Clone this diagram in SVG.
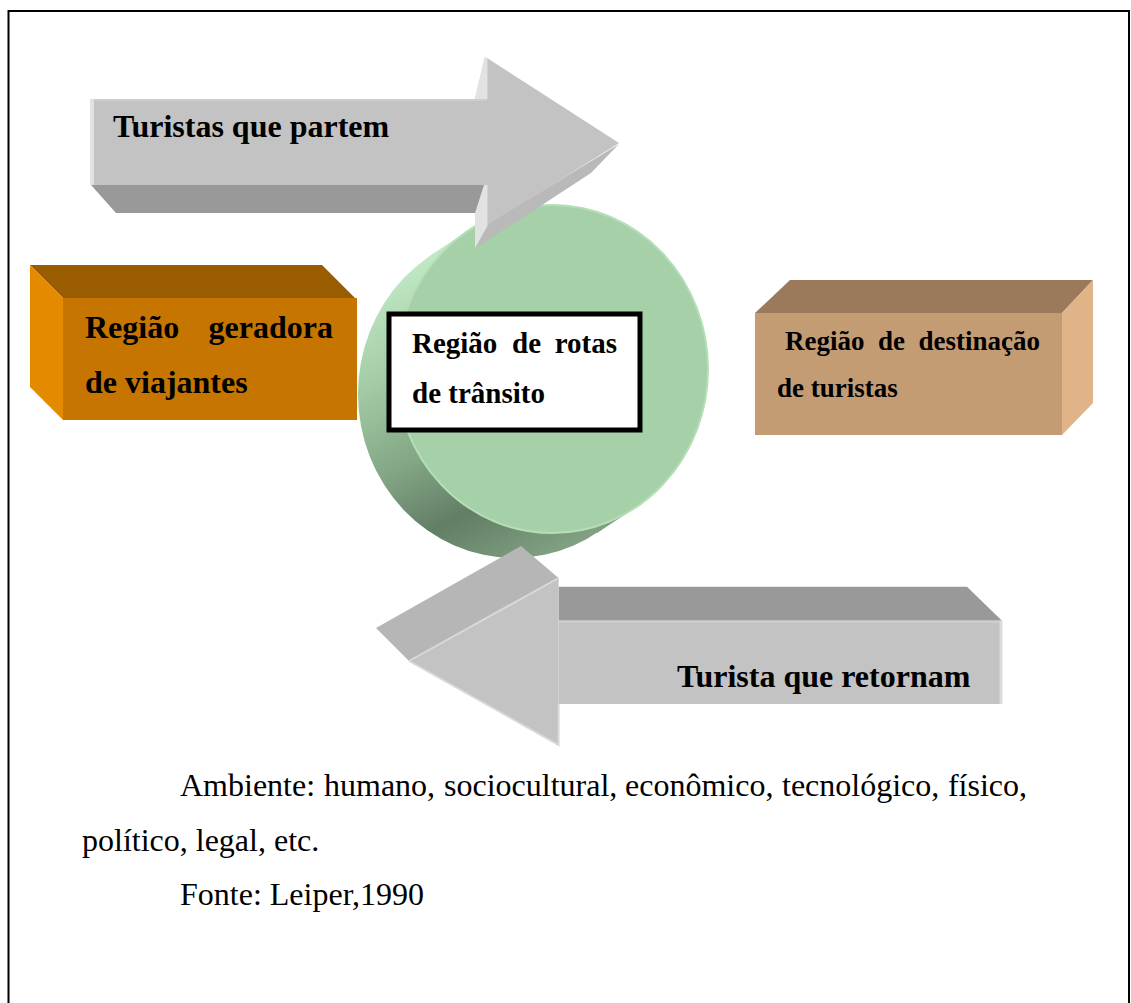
<svg xmlns="http://www.w3.org/2000/svg" width="1131" height="1003" viewBox="0 0 1131 1003">
  <style>
    .lbl { font-family: "Liberation Serif", "Times New Roman", serif; font-weight: bold; fill: #000; }
    .body { font-family: "Liberation Serif", "Times New Roman", serif; font-size: 32px; fill: #000; }
    .arrow-face { fill: #c3c3c3; }
    .arrow-side { fill: #999999; }
    .arrow-facet { fill: #b6b6b6; }
    .arrow-light { fill: #e2e2e2; }
    .edge-light { fill: none; stroke: #d9d9d9; stroke-width: 2; }
  </style>
  <defs>
    <linearGradient id="rimGrad" gradientUnits="userSpaceOnUse" x1="400" y1="250" x2="560" y2="565">
      <stop offset="0" stop-color="#c6efcb"/>
      <stop offset="0.3" stop-color="#a3cba5"/>
      <stop offset="0.55" stop-color="#83a685"/>
      <stop offset="0.75" stop-color="#627e65"/>
      <stop offset="1" stop-color="#86a688"/>
    </linearGradient>
  </defs>

  <!-- page frame -->
  <rect x="8.5" y="11" width="1120.5" height="1010" fill="#ffffff" stroke="#000" stroke-width="2"/>

  <!-- transit region: green disc -->
  <g id="transit-disc">
    <ellipse cx="514" cy="394" rx="156" ry="164" fill="url(#rimGrad)"/>
    <polygon points="469,230 635,508 597,533 431,255" fill="url(#rimGrad)"/>
    <ellipse cx="552" cy="369" rx="156" ry="164" fill="#a6d0a8" stroke="#b5deb7" stroke-width="2"/>
  </g>

  <!-- connectors: flow arrows -->
  <g id="connectors">
    <g id="arrow-departing">
      <polygon class="arrow-side" points="91,185 487,185 487,213 116,213"/>
      <rect class="arrow-face" x="90" y="99" width="398" height="86"/>
      <rect x="90" y="99" width="398" height="2" fill="#cdcdcd"/>
      <rect class="arrow-light" x="90" y="99" width="4" height="86"/>
      <polygon class="arrow-face" points="487,58 619,143 487,226"/>
      <polygon fill="#b9b9b9" points="619,144 591,173 476,248 487,225"/>
      <polygon class="arrow-light" points="484.6,56.7 487.5,58.3 487.5,99 474.6,99"/>
      <polygon class="arrow-light" points="484,185 487.5,185 487.5,226 475,248 475,213"/>
      <text class="lbl" x="113" y="137" font-size="32">Turistas que partem</text>
    </g>
    <g id="arrow-returning">
      <polygon class="arrow-side" points="558.6,586.7 967,586.7 1002,620.7 558.6,620.7"/>
      <rect class="arrow-face" x="558.6" y="620.7" width="443.4" height="83.3"/>
      <rect x="558.6" y="620.7" width="443.4" height="2" fill="#cfcfcf"/>
      <rect x="999.5" y="620.7" width="3" height="83.3" fill="#dcdcdc"/>
      <polygon class="arrow-facet" points="521,546 376,628 409,661 558.6,578"/>
      <polygon class="arrow-face" points="558.6,578 409,661 558.6,745"/>
      <polyline class="edge-light" points="409,661 558.6,578"/>
      <polyline class="edge-light" points="409,661 558.6,745 558.6,704"/>
      <text class="lbl" x="677" y="687" font-size="32">Turista que retornam</text>
    </g>
  </g>

  <!-- traveller-generating region -->
  <g id="generating-region">
    <polygon fill="#9a5c00" points="30,265 322,265 355,298 63,298"/>
    <polygon fill="#e38a00" points="30,265 63,298 63,420 30,387"/>
    <rect x="63" y="298" width="294" height="122" fill="#c67600"/>
    <text class="lbl" font-size="32" y="338"><tspan x="85">Região</tspan><tspan x="333" text-anchor="end">geradora</tspan></text>
    <text class="lbl" font-size="32" x="85" y="393">de viajantes</text>
  </g>

  <!-- transit route region label -->
  <g id="transit-label">
    <rect x="389" y="314" width="251" height="116" fill="#ffffff" stroke="#000" stroke-width="5"/>
    <text class="lbl" font-size="29" y="353"><tspan x="412">Região</tspan><tspan x="512">de</tspan><tspan x="617" text-anchor="end">rotas</tspan></text>
    <text class="lbl" font-size="29" x="412" y="403">de trânsito</text>
  </g>

  <!-- tourist destination region -->
  <g id="destination-region">
    <polygon fill="#9a7a5a" points="790,280 1093,280 1062,313 755,313"/>
    <polygon fill="#e0b488" points="1062,313 1093,280 1093,403 1062,435"/>
    <rect x="755" y="313" width="307" height="122" fill="#c49c74"/>
    <text class="lbl" font-size="27" y="350"><tspan x="785">Região</tspan><tspan x="878">de</tspan><tspan x="1040" text-anchor="end">destinação</tspan></text>
    <text class="lbl" font-size="27" x="777" y="397">de turistas</text>
  </g>

  <!-- caption -->
  <g id="caption">
    <text class="body" y="796"><tspan x="180">Ambiente:</tspan><tspan x="324">humano,</tspan><tspan x="444">sociocultural,</tspan><tspan x="625">econômico,</tspan><tspan x="782">tecnológico,</tspan><tspan x="1027" text-anchor="end">físico,</tspan></text>
    <text class="body" x="82" y="851">político, legal, etc.</text>
    <text class="body" x="180" y="905">Fonte: Leiper,1990</text>
  </g>
</svg>
